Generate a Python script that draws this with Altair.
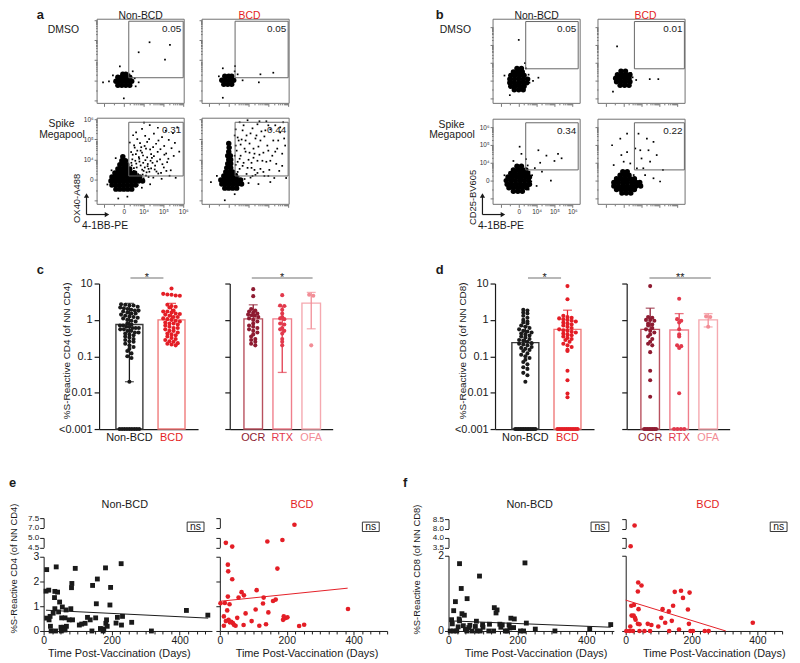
import altair as alt
import pandas as pd

# ---------------- canvas (page coords = canvas + 8) ----------------
W, H = 792, 655
M = 8

FONT = "Liberation Sans"
BLACK = "#1a1a1a"
RED = "#e41e26"
OCR_C = "#8e1b31"
RTX_C = "#e2394c"
OFA_C = "#f28d96"
SIG_GRAY = "#a0a0a0"
FRAME_C = "#707070"

# ================= DATA =================
PANEL_LETTERS = ["a", "b", "c", "d", "e", "f"]
COL_TITLES = ["Non-BCD", "BCD"]
ROW_TITLES = ["DMSO", "Spike", "Megapool"]
FLOW_AXIS_TITLES = ["OX40-A488", "CD25-BV605", "4-1BB-PE"]
Y_TITLES = ["%S-Reactive CD4 (of NN CD4)", "%S-Reactive CD8 (of NN CD8)"]
X_TITLE = "Time Post-Vaccination (Days)"
SIG_TEXT = ["*", "*", "*", "**"]
NS_TEXT = "ns"

# ---- a/b flow cytometry, display units: 0 -> "0", 1 -> 10^4, 2 -> 10^5, 3 -> 10^6
FLOW_TICK_LABELS = ["0", "10⁴", "10⁵", "10⁶"]
FLOW_PCT = ["0.05", "0.05", "0.31", "0.44", "0.05", "0.01", "0.34", "0.22"]
FLOW_GATE_X0 = [0.25, 0.32, 0.25, 0.32, 0.39, 0.60, 0.39, 0.60]
FLOW_GATE_X1 = [3.00, 3.00, 3.00, 3.00, 3.33, 3.40, 3.33, 3.40]
FLOW_GATE_Y0 = [0.13, 0.13, 0.20, 0.20, 0.68, 0.68, 0.60, 0.60]
FLOW_GATE_Y1 = [2.95, 2.95, 2.85, 2.85, 3.33, 3.33, 3.24, 3.24]

# dense cell populations (outline of the black mass, as a fill of small discs)
A_TL_BLOB = [(-0.3, -0.25), (-0.1, -0.25), (0.1, -0.25), (0.3, -0.25),
             (-0.4, -0.05), (-0.2, -0.05), (0.0, -0.05), (0.2, -0.05), (0.4, -0.05),
             (-0.3, 0.15), (-0.1, 0.15), (0.1, 0.15), (0.3, 0.15), (-0.05, 0.3), (0.1, 0.3)]
A_TR_BLOB = [(-0.25, -0.2), (-0.05, -0.2), (0.15, -0.2),
             (-0.35, 0.0), (-0.15, 0.0), (0.05, 0.0), (0.25, 0.0),
             (-0.2, 0.2), (0.0, 0.2), (0.15, 0.2)]
A_BL_BLOB = [(-0.4, -0.45), (-0.2, -0.45), (0.0, -0.45), (0.2, -0.45), (0.4, -0.45),
             (-0.6, -0.25), (-0.4, -0.25), (-0.2, -0.25), (0.0, -0.25), (0.2, -0.25), (0.4, -0.25), (0.6, -0.25),
             (-0.65, -0.05), (-0.45, -0.05), (-0.25, -0.05), (-0.05, -0.05), (0.15, -0.05), (0.35, -0.05),
             (0.55, -0.05), (0.75, -0.05), (0.95, -0.05),
             (-0.6, 0.15), (-0.4, 0.15), (-0.2, 0.15), (0.0, 0.15), (0.2, 0.15), (0.4, 0.15), (0.6, 0.15),
             (0.8, 0.15),
             (-0.45, 0.35), (-0.25, 0.35), (-0.05, 0.35), (0.15, 0.35), (0.35, 0.35), (0.55, 0.35),
             (-0.3, 0.55), (-0.1, 0.55), (0.1, 0.55), (0.3, 0.55),
             (-0.2, 0.75), (0.0, 0.75), (0.15, 0.75), (-0.1, 0.95), (0.08, 0.95), (-0.05, 1.15)]
A_BR_BLOB = [(-0.2, -0.4), (0.0, -0.4), (0.2, -0.4), (0.4, -0.4),
             (-0.35, -0.2), (-0.15, -0.2), (0.05, -0.2), (0.25, -0.2), (0.45, -0.2), (0.65, -0.2),
             (-0.4, 0.0), (-0.2, 0.0), (0.0, 0.0), (0.2, 0.0), (0.4, 0.0), (0.6, 0.0),
             (-0.25, 0.2), (-0.05, 0.2), (0.15, 0.2), (0.35, 0.2),
             (-0.15, 0.4), (0.05, 0.4), (0.2, 0.4), (-0.1, 0.6), (0.1, 0.6), (-0.05, 0.8), (0.1, 0.8),
             (0.0, 1.0), (0.1, 1.0), (-0.05, 1.2), (0.08, 1.2), (0.0, 1.4), (0.02, 1.6), (0.0, 1.8)]
B_TL_BLOB = [(-0.25, -0.5), (0.0, -0.5), (0.25, -0.5),
             (-0.45, -0.3), (-0.2, -0.3), (0.05, -0.3), (0.3, -0.3),
             (-0.5, -0.1), (-0.25, -0.1), (0.0, -0.1), (0.25, -0.1), (0.45, -0.1),
             (-0.5, 0.1), (-0.25, 0.1), (0.0, 0.1), (0.25, 0.1), (0.5, 0.1),
             (-0.45, 0.3), (-0.2, 0.3), (0.05, 0.3), (0.3, 0.3),
             (-0.3, 0.5), (-0.05, 0.5), (0.2, 0.5), (-0.1, 0.7), (0.15, 0.7)]
B_TR_BLOB = [(-0.2, -0.25), (0.05, -0.25), (0.3, -0.25),
             (-0.4, -0.05), (-0.15, -0.05), (0.1, -0.05), (0.35, -0.05),
             (-0.45, 0.15), (-0.2, 0.15), (0.05, 0.15), (0.3, 0.15),
             (-0.35, 0.35), (-0.1, 0.35), (0.15, 0.35), (0.35, 0.35), (-0.15, 0.55), (0.1, 0.55)]
B_BL_BLOB = [(-0.3, -0.6), (-0.05, -0.6), (0.2, -0.6),
             (-0.55, -0.4), (-0.3, -0.4), (-0.05, -0.4), (0.2, -0.4), (0.45, -0.4),
             (-0.65, -0.2), (-0.4, -0.2), (-0.15, -0.2), (0.1, -0.2), (0.35, -0.2), (0.6, -0.2),
             (-0.7, 0.0), (-0.45, 0.0), (-0.2, 0.0), (0.05, 0.0), (0.3, 0.0), (0.55, 0.0),
             (-0.6, 0.2), (-0.35, 0.2), (-0.1, 0.2), (0.15, 0.2), (0.4, 0.2), (0.6, 0.2),
             (-0.45, 0.4), (-0.2, 0.4), (0.05, 0.4), (0.3, 0.4), (0.5, 0.4),
             (-0.3, 0.6), (-0.05, 0.6), (0.2, 0.6), (0.4, 0.6), (-0.1, 0.8), (0.15, 0.8)]
B_BR_BLOB = [(-0.1, -0.7), (0.15, -0.7), (0.4, -0.7),
             (-0.4, -0.5), (-0.15, -0.5), (0.1, -0.5), (0.35, -0.5), (0.6, -0.5),
             (-0.55, -0.3), (-0.3, -0.3), (-0.05, -0.3), (0.2, -0.3), (0.45, -0.3), (0.7, -0.3), (0.95, -0.3),
             (-0.55, -0.1), (-0.3, -0.1), (-0.05, -0.1), (0.2, -0.1), (0.45, -0.1), (0.7, -0.1), (0.9, -0.1),
             (-0.4, 0.1), (-0.15, 0.1), (0.1, 0.1), (0.35, 0.1), (0.6, 0.1),
             (-0.2, 0.3), (0.05, 0.3), (0.3, 0.3), (-0.05, 0.5), (0.2, 0.5)]

# scattered single events
A_TL_DOTS = [(0.28, 0.3), (0.45, 0.45), (2.08, 1.03), (2.33, 1.77), (0.75, 1.4), (-1.05, -0.1), (-0.75, -0.05),
             (0.75, -0.1), (0.0, -0.9), (0.55, 0.1), (-0.2, 0.7), (1.3, 1.9), (0.6, -0.3), (-0.55, 0.25)]
A_TR_DOTS = [(0.32, 0.71), (2.25, 0.38), (1.6, 0.3), (-0.3, -0.87), (1.52, -0.1), (0.7, 0.0), (0.45, 0.3),
             (-0.5, 0.2), (0.3, 0.45), (-0.3, 0.6)]
A_BL_DOTS = [(0.92, 2.52), (1.31, 2.71), (1.72, 2.58), (2.12, 2.43), (2.48, 2.31), (1.08, 2.18), (1.52, 2.29),
             (1.93, 2.12), (2.27, 1.98), (2.58, 1.83), (0.68, 2.02), (1.18, 1.88), (1.63, 1.79), (2.04, 1.68),
             (2.41, 1.57), (0.52, 1.71), (0.88, 1.62), (1.33, 1.51), (1.71, 1.39), (2.14, 1.31), (2.52, 1.19),
             (0.61, 1.28), (0.97, 1.21), (1.42, 1.09), (1.83, 1.02), (2.19, 0.88), (0.43, 1.02), (0.79, 0.91),
             (1.21, 0.79), (1.58, 0.71), (2.02, 0.62), (2.37, 0.48), (0.51, 0.59), (0.93, 0.51), (1.29, 0.41),
             (1.74, 0.32), (0.72, 0.29), (1.12, 0.22), (1.49, 0.12), (1.91, 0.06), (0.33, 0.42), (0.37, 1.38),
             (0.47, 2.21), (1.02, 2.83), (1.38, 1.28), (1.09, 0.98), (0.63, 0.81), (0.76, 1.13), (1.06, 0.62),
             (1.56, 0.52), (2.31, 0.21), (2.62, 0.11), (-0.62, 0.48), (-0.41, 1.08), (-0.83, -0.22), (0.18, -0.82),
             (-0.28, -0.91), (0.91, -0.38), (1.33, -0.21), (0.55, 0.35), (1.45, 0.85), (0.85, 1.45), (1.25, 0.55),
             (0.45, 0.15), (0.62, 0.05), (0.8, 0.18), (0.95, 0.27), (1.15, 0.38), (0.4, 0.72), (2.8, 1.4), (2.7, 2.6),
             (0.35, 0.25), (0.5, 0.45), (0.65, 0.62), (0.85, 0.72), (1.0, 0.45), (1.2, 0.68), (1.38, 0.58),
             (0.58, 0.95), (0.78, 1.05), (0.98, 0.85), (1.18, 1.12), (1.35, 0.95), (1.52, 1.18), (1.68, 0.92),
             (0.45, 1.25), (0.68, 1.45), (0.92, 1.35), (1.12, 1.55), (1.48, 1.62), (1.85, 1.52), (2.05, 1.25),
             (1.95, 0.78), (2.25, 1.05), (0.38, 0.85), (0.55, 1.6), (0.82, 1.82), (1.05, 1.68), (1.28, 2.02),
             (1.75, 1.95), (0.3, 1.85), (0.25, 0.05), (0.4, -0.05), (0.55, -0.15), (0.7, -0.25), (1.0, 0.08),
             (1.25, 0.15), (1.65, 0.42), (1.88, 0.35), (2.15, 0.45), (0.62, 2.35)]
A_BR_DOTS = [(0.55, 2.85), (0.95, 2.95), (1.45, 2.75), (1.9, 2.9), (2.35, 2.7), (2.75, 2.85), (0.7, 2.45),
             (1.2, 2.55), (1.65, 2.4), (2.1, 2.5), (2.6, 2.35), (0.45, 2.1), (0.9, 2.2), (1.35, 2.05), (1.8, 2.15),
             (2.25, 1.95), (2.8, 2.05), (0.6, 1.75), (1.05, 1.8), (1.5, 1.65), (1.95, 1.7), (2.45, 1.55), (0.4, 1.45),
             (0.85, 1.4), (1.3, 1.3), (1.75, 1.35), (2.2, 1.2), (2.7, 1.3), (0.55, 1.05), (1.0, 1.0), (1.45, 0.95),
             (1.9, 0.9), (2.4, 0.8), (0.7, 0.7), (1.15, 0.6), (1.6, 0.55), (2.05, 0.5), (2.55, 0.45), (0.45, 0.4),
             (0.9, 0.3), (1.35, 0.25), (1.8, 0.2), (2.3, 0.1), (2.9, 0.1), (0.5, 0.15), (1.1, 0.12), (-0.6, 0.2),
             (-0.9, -0.1), (0.3, -0.7), (-0.2, -1.0), (1.5, -0.2), (2.1, -0.1), (0.35, 0.75), (0.3, 1.2),
             (0.65, 2.0), (1.25, 1.55),
             (0.4, 0.3), (0.55, 0.55), (0.75, 0.85), (0.95, 0.6), (1.15, 0.85), (1.3, 0.5), (0.6, 1.2), (0.8, 1.55),
             (1.05, 1.35), (1.25, 1.1), (1.55, 1.25), (1.7, 0.95), (0.35, 1.7), (0.5, 1.95), (0.85, 1.95),
             (1.1, 2.3), (1.4, 2.2), (1.6, 1.95), (2.0, 1.45), (2.1, 0.95), (2.35, 1.4), (2.5, 1.95), (2.6, 2.6),
             (2.0, 2.7), (1.55, 2.9), (0.75, 2.7), (0.35, 2.5), (0.3, 0.05), (0.55, -0.1), (0.8, 0.05),
             (1.0, -0.15), (1.2, 0.2), (1.45, 0.35), (1.75, 0.4), (2.0, 0.2), (0.45, 0.9), (0.3, 2.2), (2.85, 1.7),
             (2.7, 0.7), (1.85, 2.45)]
B_TL_DOTS = [(0.0, 2.3), (0.4, 0.7), (0.6, -0.1), (1.1, 0.18), (-0.8, 0.3), (0.35, 1.0), (0.55, 0.35),
             (-0.5, -0.8), (0.8, 0.0)]
B_TR_DOTS = [(-0.37, 1.94), (1.94, 0.1), (1.46, 0.1), (0.5, 0.2), (0.7, 0.05), (-0.6, -0.6), (0.4, 0.45)]
B_BL_DOTS = [(1.1, 1.7), (1.55, 1.4), (2.2, 1.5), (2.4, 1.25), (0.05, 1.9), (0.15, 1.5), (0.4, 1.2), (0.9, 0.7),
             (1.3, 0.5), (1.8, 0.0), (0.75, 0.3), (1.2, 1.0), (-0.8, 0.3), (0.6, 0.5), (0.5, 0.85), (2.0, 1.1),
             (0.3, 0.6), (-0.3, 1.1), (1.0, -0.3), (0.55, -0.5), (0.35, 0.15), (0.7, -0.05)]
B_BR_DOTS = [(-0.65, 1.98), (-0.19, 2.35), (0.19, 1.6), (0.93, 1.7), (1.3, 2.35), (1.67, 2.17), (1.85, 1.43),
             (1.48, 1.06), (1.0, 1.24), (0.74, 0.69), (1.2, 0.31), (1.67, 0.13), (2.04, -0.05), (0.65, 1.8),
             (0.37, 0.96), (0.0, 1.06), (-0.56, 0.87), (1.39, 1.7), (0.56, 0.31), (2.2, 0.6), (0.83, 2.63),
             (0.19, 2.63), (-0.13, 1.43), (1.1, 0.69)]

# ---- c/d: % S-reactive (0 plotted as "<0.001")
GROUPS_L = ["Non-BCD", "BCD"]
GROUPS_R = ["OCR", "RTX", "OFA"]
C_NONBCD = [2.7, 2.6, 2.5, 2.5, 2.3, 2.2, 2.1, 2.0, 1.9, 1.8, 1.8, 1.7, 1.6, 1.5, 1.5, 1.4, 1.3, 1.25, 1.2, 1.15,
            1.1, 1.0, 0.95, 0.9, 0.8, 0.75, 0.7, 0.7, 0.65, 0.65, 0.6, 0.6, 0.6, 0.55, 0.55, 0.5, 0.5, 0.45, 0.45,
            0.42, 0.4, 0.38, 0.35, 0.33, 0.3, 0.28, 0.26, 0.25, 0.22, 0.2, 0.18, 0.16, 0.14, 0.12, 0.1, 0.09, 0.02,
            0, 0, 0, 0, 0, 0, 0, 0, 0]
C_BCD = [7.3, 5.2, 5.0, 4.9, 4.7, 4.6, 2.6, 2.4, 2.3, 2.2, 1.8, 1.7, 1.7, 1.6, 1.5, 1.45, 1.4, 1.3, 1.2, 1.2, 1.1,
         1.05, 1.0, 0.95, 0.9, 0.85, 0.8, 0.8, 0.75, 0.7, 0.65, 0.6, 0.6, 0.55, 0.5, 0.5, 0.45, 0.42, 0.4, 0.38,
         0.35, 0.32, 0.3, 0.28, 0.26, 0.25, 0.23, 0.22, 0.21, 0.2]
C_OCR = [7.0, 4.5, 2.0, 1.8, 1.7, 1.6, 1.5, 1.4, 1.35, 1.3, 1.2, 1.1, 1.0, 0.9, 0.8, 0.7, 0.65, 0.6, 0.55, 0.5,
         0.45, 0.4, 0.35, 0.3, 0.28, 0.25, 0.22, 0.2]
C_RTX = [4.8, 2.5, 2.4, 1.9, 1.5, 1.2, 1.1, 1.05, 0.8, 0.75, 0.6, 0.55, 0.5, 0.42, 0.3, 0.25, 0.2]
C_OFA = [4.9, 4.6, 0.2]
C_MEAN_L = [0.75, 1.0]
C_LO_L = [0.02, 1.0]
C_HI_L = [2.85, 2.85]
C_MEAN_R = [1.07, 1.07, 2.9]
C_LO_R = [1.07, 0.036, 0.57]
C_HI_R = [2.6, 2.36, 5.7]

D_NONBCD = [1.9, 1.8, 1.6, 1.5, 1.3, 1.15, 1.0, 0.9, 0.85, 0.8, 0.7, 0.65, 0.6, 0.55, 0.5, 0.48, 0.45, 0.42, 0.4,
            0.37, 0.35, 0.33, 0.3, 0.28, 0.27, 0.25, 0.23, 0.22, 0.21, 0.2, 0.18, 0.17, 0.16, 0.15, 0.14, 0.12,
            0.11, 0.1, 0.09, 0.08, 0.07, 0.06, 0.05, 0.045, 0.035, 0.03, 0.02,
            0, 0, 0, 0, 0, 0, 0, 0, 0, 0, 0, 0, 0]
D_BCD = [8.5, 3.7, 1.3, 1.2, 1.15, 1.1, 1.05, 1.0, 0.95, 0.9, 0.85, 0.8, 0.75, 0.7, 0.65, 0.6, 0.55, 0.52, 0.5,
         0.47, 0.45, 0.42, 0.4, 0.38, 0.35, 0.32, 0.3, 0.28, 0.25, 0.22, 0.2, 0.18, 0.15, 0.14, 0.04, 0.022,
         0.0095, 0.0075, 0, 0, 0, 0, 0, 0, 0, 0, 0, 0, 0, 0]
D_OCR = [8.5, 1.2, 1.15, 1.0, 1.0, 0.95, 0.8, 0.75, 0.7, 0.6, 0.55, 0.5, 0.45, 0.4, 0.35, 0.3, 0.25, 0.22, 0.2,
         0.13, 0.04, 0.022, 0.0077, 0, 0, 0, 0, 0, 0, 0, 0]
D_RTX = [3.8, 1.05, 0.95, 0.85, 0.55, 0.4, 0.35, 0.2, 0.19, 0.17, 0.0096, 0, 0, 0, 0]
D_OFA = [1.25, 1.2, 0.65]
D_MEAN_L = [0.238, 0.55]
D_LO_L = [0.238, 0.55]
D_HI_L = [0.66, 1.85]
D_MEAN_R = [0.55, 0.53, 1.0]
D_LO_R = [0.55, 0.53, 0.64]
D_HI_R = [2.1, 1.49, 1.49]

# ---- e/f: (days post-vaccination, % S-reactive)
E_NONBCD = [(9, 2.48), (37, 2.59), (93, 2.53), (228, 2.72), (182, 2.55), (158, 2.10), (144, 1.84), (83, 1.92),
            (82, 1.75), (197, 1.76), (7, 1.61), (15, 1.65), (33, 1.60), (41, 1.57), (32, 1.35), (47, 1.17),
            (155, 1.10), (195, 1.05), (55, 0.97), (66, 0.85), (80, 0.90), (33, 0.90), (44, 0.77), (28, 0.72),
            (19, 0.59), (9, 0.52), (16, 0.45), (53, 0.53), (63, 0.53), (75, 0.45), (85, 0.45), (129, 0.55),
            (137, 0.45), (153, 0.53), (185, 0.45), (217, 0.55), (232, 0.59), (105, 0.24), (112, 0.28),
            (122, 0.31), (183, 0.31), (213, 0.32), (229, 0.24), (259, 0.35), (20, 0.19), (51, 0.15), (59, 0.15),
            (67, 0.19), (187, 0.19), (167, 0.10), (177, 0.08), (22, 0.0), (35, 0.0), (52, 0.0), (142, 0.0),
            (175, 0.0), (317, 0.0), (420, 0.83), (483, 0.64), (55, 0.05), (60, 0.10), (63, 0.04)]
E_NONBCD_FIT = [(7, 0.84), (484, 0.52)]
E_BCD = [(223, 7.15), (18, 4.74), (37, 4.54), (142, 4.81), (187, 4.89), (24, 2.68), (25, 2.41), (172, 2.52),
         (37, 2.09), (110, 1.65), (65, 1.57), (72, 1.44), (56, 1.35), (24, 1.39), (131, 1.35), (167, 1.27),
         (159, 1.21), (2, 1.12), (15, 1.13), (29, 1.08), (129, 1.11), (22, 0.83), (107, 0.87), (77, 0.71),
         (145, 0.75), (12, 0.59), (52, 0.53), (26, 0.45), (18, 0.40), (34, 0.37), (95, 0.40), (189, 0.45),
         (196, 0.52), (202, 0.55), (191, 0.59), (42, 0.25), (47, 0.21), (12, 0.21), (71, 0.24), (118, 0.21),
         (138, 0.27), (237, 0.20), (252, 0.25), (383, 0.89), (39, 0.32), (30, 0.35)]
E_BCD_FIT = [(0, 1.2), (382, 1.73)]
F_NONBCD = [(32, 1.79), (222, 1.81), (90, 1.46), (37, 1.13), (20, 0.78), (54, 0.86), (15, 0.54), (39, 0.46),
            (46, 0.42), (31, 0.32), (32, 0.27), (9, 0.30), (11, 0.19), (133, 0.62), (141, 0.56), (138, 0.48),
            (181, 0.34), (191, 0.32), (81, 0.26), (119, 0.18), (99, 0.17), (149, 0.18), (156, 0.16), (152, 0.10),
            (226, 0.21), (28, 0.11), (43, 0.14), (62, 0.15), (59, 0.09), (49, 0.04), (78, 0.12), (100, 0.10),
            (176, 0.16), (178, 0.08), (189, 0.09), (5, 0.0), (15, 0.0), (24, 0.0), (53, 0.0), (68, 0.0), (83, 0.0),
            (92, 0.0), (117, 0.0), (131, 0.0), (165, 0.0), (170, 0.0), (209, 0.0), (218, 0.0), (252, 0.05),
            (309, 0.0), (410, 0.06), (471, 0.17)]
F_NONBCD_FIT = [(3, 0.27), (471, 0.10)]
F_BCD = [(27, 8.16), (15, 3.56), (38, 1.29), (48, 1.21), (37, 1.05), (149, 1.04), (168, 1.07), (194, 1.02),
         (174, 0.88), (17, 0.67), (25, 0.69), (39, 0.58), (112, 0.58), (131, 0.52), (144, 0.67), (189, 0.57),
         (18, 0.41), (24, 0.41), (28, 0.35), (30, 0.30), (37, 0.19), (108, 0.35), (120, 0.22), (140, 0.27),
         (67, 0.19), (78, 0.16), (99, 0.12), (192, 0.19), (14, 0.12), (386, 0.22), (42, 0.18), (162, 0.04),
         (2, 0.0), (12, 0.0), (22, 0.0), (42, 0.0), (57, 0.0), (74, 0.0), (132, 0.0), (197, 0.0), (204, 0.0),
         (240, 0.0), (252, 0.0)]
F_BCD_FIT = [(0, 0.82), (304, 0.0)]

# ================= helpers =================
ONE = pd.DataFrame({"k": [0]})


def P(v):
    return v - M


def tx(s, x, y, size=11, color=BLACK, align="center", baseline="middle", angle=0, weight="normal"):
    return alt.Chart(pd.DataFrame({"t": [s]})).mark_text(
        font=FONT, fontSize=size, color=color, align=align, baseline=baseline, angle=angle, fontWeight=weight
    ).encode(x=alt.value(P(x)), y=alt.value(P(y)), text="t:N")


def hrule(x1, x2, y, color=BLACK, width=1.0):
    return alt.Chart(ONE).mark_rule(color=color, strokeWidth=width).encode(
        x=alt.value(P(x1)), x2=alt.value(P(x2)), y=alt.value(P(y)))


def vrule(x, y1, y2, color=BLACK, width=1.0):
    return alt.Chart(ONE).mark_rule(color=color, strokeWidth=width).encode(
        x=alt.value(P(x)), y=alt.value(P(y1)), y2=alt.value(P(y2)))


def frame(x1, y1, x2, y2, color, width=1.0):
    return alt.Chart(ONE).mark_rect(fill="white", fillOpacity=0, stroke=color, strokeWidth=width).encode(
        x=alt.value(P(x1)), x2=alt.value(P(x2)), y=alt.value(P(y1)), y2=alt.value(P(y2)))


def head(x, y, shape):
    return alt.Chart(ONE).mark_point(shape=shape, filled=True, size=28, color=BLACK, opacity=1).encode(
        x=alt.value(P(x)), y=alt.value(P(y)))


FLOW_TICKS = [-1.0, -0.5, 0.0, 0.3, 0.48, 0.6, 0.7, 0.78, 0.85, 0.9, 0.95, 1.0, 1.3, 1.48, 1.6, 1.7, 1.78,
              1.85, 1.9, 1.95, 2.0, 2.3, 2.48, 2.6, 2.7, 2.78, 2.85, 2.9, 2.95, 3.0]
FLOW_LABEL_EXPR = " : ".join(
    "datum.value == %d ? '%s'" % (i, lab) for i, lab in enumerate(FLOW_TICK_LABELS)) + " : ''"


def flow_plot(blob, dots, i, box, xdom, ydom, show_labels):
    x0, y0, x1, y1 = box
    xs = alt.Scale(domain=xdom, range=[P(x0), P(x1)], nice=False, zero=False)
    ys = alt.Scale(domain=ydom, range=[P(y1), P(y0)], nice=False, zero=False)
    common = dict(values=FLOW_TICKS, domain=False, grid=False, tickColor="#555555", tickWidth=0.8,
                  tickSize={"condition": {"test": "datum.value % 1 == 0", "value": 3}, "value": 1.5},
                  labels=show_labels, labelExpr=FLOW_LABEL_EXPR, labelFontSize=6.5, labelColor="#333333",
                  labelOverlap=False, labelFlush=False, labelPadding=1, title=None)
    ax = alt.Axis(orient="bottom", offset=P(y1) - H, **common)
    ay = alt.Axis(orient="left", offset=-P(x0), labelAngle=0, **common)
    X = alt.X("x:Q", scale=xs, axis=ax)
    Y = alt.Y("y:Q", scale=ys, axis=ay)
    blob_df = pd.DataFrame(blob, columns=["x", "y"])
    dots_df = pd.DataFrame(dots, columns=["x", "y"])
    gate_df = pd.DataFrame({"x": [FLOW_GATE_X0[i]], "x2": [FLOW_GATE_X1[i]], "y": [FLOW_GATE_Y0[i]],
                            "y2": [FLOW_GATE_Y1[i]], "t": [FLOW_PCT[i]]})
    l_dots = alt.Chart(dots_df).mark_square(size=3, color="black", opacity=1).encode(x=X, y=Y)
    l_blob = alt.Chart(blob_df).mark_circle(size=30, color="black", opacity=1).encode(x=X, y=Y)
    l_gate = alt.Chart(gate_df).mark_rect(fill="white", fillOpacity=0, stroke="#666666", strokeWidth=1).encode(
        x=X, x2="x2:Q", y=Y, y2="y2:Q")
    l_pct = alt.Chart(gate_df).mark_text(font=FONT, fontSize=10, align="right", baseline="top", dx=-2, dy=3,
                                         color=BLACK).encode(
        x=alt.X("x2:Q", scale=xs, axis=ax), y=alt.Y("y2:Q", scale=ys, axis=ay), text="t:N")
    return alt.layer(l_dots, l_blob, l_gate, l_pct)


HW = 0.32


def bar_plot(names, pos, vals, means, los, his, dot_colors, bar_colors, box, xdom, ylabels):
    x0, y0, x1, y1 = box
    ppu = (x1 - x0) / (xdom[1] - xdom[0])
    spread = 2 * HW * ppu - 5
    xs = alt.Scale(domain=xdom, range=[P(x0), P(x1)], nice=False, zero=False)
    ys = alt.Scale(type="log", domain=[0.001, 10], range=[P(y1), P(y0)], nice=False)
    cs = alt.Scale(domain=names, range=dot_colors)
    ss = alt.Scale(domain=names, range=bar_colors)
    ax = alt.Axis(orient="bottom", offset=P(y1) - H, labels=False, ticks=False, grid=False,
                  domainColor=BLACK, domainWidth=1.2, title=None)
    ay = alt.Axis(orient="left", offset=-P(x0), values=[0.001, 0.01, 0.1, 1, 10],
                  labelExpr="datum.value < 0.002 ? '<0.001' : format(datum.value, '~g')",
                  labels=ylabels, tickSize=5, tickWidth=1.2, tickColor=BLACK, domainColor=BLACK,
                  domainWidth=1.2, labelFontSize=11, labelColor=BLACK, labelPadding=2,
                  labelOverlap=False, labelFlush=False, grid=False, title=None)
    col = alt.Color("grp:N", scale=cs, legend=None)
    rows = []
    for n, p, vs in zip(names, pos, vals):
        rows += [{"grp": n, "pos": p, "val": v} for v in vs]
    pdf = pd.DataFrame(rows)
    bdf = pd.DataFrame({"grp": names, "pos": pos, "mean": means, "lo": los, "hi": his})

    bars = alt.Chart(bdf).transform_calculate(
        xa="datum.pos - %f" % HW, xb="datum.pos + %f" % HW, base="0.001"
    ).mark_bar(fill="white", fillOpacity=0, strokeWidth=1.4).encode(
        x=alt.X("xa:Q", scale=xs, axis=ax), x2="xb:Q",
        y=alt.Y("mean:Q", scale=ys, axis=ay), y2="base:Q",
        stroke=alt.Stroke("grp:N", scale=ss, legend=None))
    pts = alt.Chart(pdf).transform_calculate(
        v="max(datum.val, 0.001)"
    ).transform_calculate(
        rowbin="round(log(datum.v) / LN10 / 0.1)"
    ).transform_window(
        rk="row_number()", groupby=["grp", "rowbin"]
    ).transform_joinaggregate(
        cnt="count()", groupby=["grp", "rowbin"]
    ).transform_calculate(
        xp="datum.pos + (datum.rk - (datum.cnt + 1) / 2) * min(4.2, %f / datum.cnt) / %f" % (spread, ppu)
    ).mark_circle(size=17, opacity=1).encode(
        x=alt.X("xp:Q", scale=xs, axis=ax), y=alt.Y("v:Q", scale=ys, axis=ay), color=col)
    err = alt.Chart(bdf).mark_rule(strokeWidth=1.3).encode(
        x=alt.X("pos:Q", scale=xs, axis=ax), y=alt.Y("lo:Q", scale=ys, axis=ay), y2="hi:Q", color=col)
    cap_hi = alt.Chart(bdf).mark_tick(orient="horizontal", size=9, thickness=1.3).encode(
        x=alt.X("pos:Q", scale=xs, axis=ax), y=alt.Y("hi:Q", scale=ys, axis=ay), color=col)
    cap_lo = alt.Chart(bdf).transform_filter("datum.lo < datum.mean").mark_tick(
        orient="horizontal", size=9, thickness=1.3).encode(
        x=alt.X("pos:Q", scale=xs, axis=ax), y=alt.Y("lo:Q", scale=ys, axis=ay), color=col)
    labs = alt.Chart(bdf).mark_text(font=FONT, fontSize=11, baseline="top").encode(
        x=alt.X("pos:Q", scale=xs, axis=ax), y=alt.value(P(y1) + 3), text="grp:N", color=col)
    return alt.layer(bars, pts, err, cap_hi, cap_lo, labs)


def time_panel(pairs, fit, segs, bx, xdom, shape, color, size, ylabels):
    x0, x1 = bx
    df = pd.DataFrame(pairs, columns=["d", "v"])
    out = []
    for lo, hi, ydom, yvals, yfmt, y0, y1, is_main in segs:
        xs = alt.Scale(domain=xdom, range=[P(x0), P(x1)], nice=False, zero=False)
        ys = alt.Scale(domain=ydom, range=[P(y1), P(y0)], nice=False, zero=False)
        if is_main:
            ax = alt.Axis(orient="bottom", offset=P(y1) - H, values=list(range(0, xdom[1] + 1, 25)),
                          tickSize={"condition": {"test": "datum.value % 200 == 0", "value": 4}, "value": 3},
                          tickColor=BLACK, tickWidth=1, domainColor=BLACK, domainWidth=1,
                          labelExpr="datum.value % 200 == 0 ? datum.label : ''", labelFontSize=10.5,
                          labelColor=BLACK, labelPadding=1, labelOverlap=False, labelFlush=False,
                          grid=False, title=None)
        else:
            ax = None
        ay = alt.Axis(orient="left", offset=-P(x0), values=yvals, format=yfmt, labels=ylabels, tickSize=4,
                      tickColor=BLACK, tickWidth=1, domainColor=BLACK, domainWidth=1,
                      labelFontSize=10.5 if is_main else 8.2,
                      labelColor=BLACK, labelPadding=1, labelOverlap=False, labelFlush=False, grid=False,
                      title=None)
        X = alt.X("d:Q", scale=xs, axis=ax)
        Y = alt.Y("v:Q", scale=ys, axis=ay)
        pts = alt.Chart(df).transform_filter("datum.v >= %f && datum.v < %f" % (lo, hi)).mark_point(
            shape=shape, filled=True, size=size, color=color, opacity=1, strokeWidth=0).encode(x=X, y=Y)
        lay = [pts]
        if is_main:
            fdf = pd.DataFrame(fit, columns=["d", "v"])
            lay.append(alt.Chart(fdf).mark_line(color=color, strokeWidth=1).encode(x=X, y=Y))
        out.append(alt.layer(*lay))
    return out


# ================= build =================
layers = []

# ---- row 1: flow plots
A_X = [-1.35, 3.05]
A_YT = [-1.15, 3.05]
A_YB = [-1.2, 3.05]
B_X = [-1.44, 3.44]
B_YT = [-1.26, 3.46]
B_YB = [-1.33, 3.44]
flow_specs = [
    (A_TL_BLOB, A_TL_DOTS, (98, 16, 186, 101), A_X, A_YT, False),
    (A_TR_BLOB, A_TR_DOTS, (204, 16, 292, 101), A_X, A_YT, False),
    (A_BL_BLOB, A_BL_DOTS, (98, 116, 186, 203), A_X, A_YB, True),
    (A_BR_BLOB, A_BR_DOTS, (204, 116, 292, 203), A_X, A_YB, False),
    (B_TL_BLOB, B_TL_DOTS, (498, 16, 586, 101), B_X, B_YT, False),
    (B_TR_BLOB, B_TR_DOTS, (604, 16, 692, 101), B_X, B_YT, False),
    (B_BL_BLOB, B_BL_DOTS, (498, 117, 586, 203), B_X, B_YB, True),
    (B_BR_BLOB, B_BR_DOTS, (604, 117, 692, 203), B_X, B_YB, False),
]
for i, (bl, dt, box, xd, yd, lab) in enumerate(flow_specs):
    layers.append(frame(*box, FRAME_C))
    layers.append(flow_plot(bl, dt, i, box, xd, yd, lab))

layers += [
    tx(PANEL_LETTERS[0], 37, 16, 13, align="left", baseline="alphabetic", weight="bold"),
    tx(PANEL_LETTERS[1], 440, 16, 13, align="left", baseline="alphabetic", weight="bold"),
    tx(COL_TITLES[0], 142, 15.5, 10.5, baseline="alphabetic"),
    tx(COL_TITLES[1], 252, 15.5, 10.5, color=RED, baseline="alphabetic"),
    tx(COL_TITLES[0], 542, 15.5, 10.5, baseline="alphabetic"),
    tx(COL_TITLES[1], 652, 15.5, 10.5, color=RED, baseline="alphabetic"),
    tx(ROW_TITLES[0], 64, 26.5, 10.5),
    tx(ROW_TITLES[1], 62, 122, 10.5),
    tx(ROW_TITLES[2], 62.5, 132.5, 10.5),
    tx(ROW_TITLES[0], 460, 26.5, 10.5),
    tx(ROW_TITLES[1], 456, 122.5, 10.5),
    tx(ROW_TITLES[2], 456.5, 132.5, 10.5),
    tx(FLOW_AXIS_TITLES[0], 78, 197, 9.5, angle=270),
    tx(FLOW_AXIS_TITLES[1], 478, 196, 9.5, angle=270),
    tx(FLOW_AXIS_TITLES[2], 106, 224.5, 10.5),
    tx(FLOW_AXIS_TITLES[2], 506, 224.5, 10.5),
]
for ox in (0, 400):
    layers += [
        vrule(87.3 + ox, 213.3, 195, BLACK, 1.2),
        hrule(87.3 + ox, 106.5 + ox, 213.3, BLACK, 1.2),
        head(87.3 + ox, 194, "triangle-up"),
        head(108 + ox, 213.3, "triangle-right"),
    ]

# ---- row 2: bar plots
XL = [0.28, 2.63]
XR = [0.19, 3.74]
DOT_L = [BLACK, RED]
BAR_L = ["#3a3a3a", "#f07a7a"]
DOT_R = [OCR_C, RTX_C, OFA_C]
BAR_R = ["#b8505e", "#f07f8c", "#f5a9b0"]
layers += [
    bar_plot(GROUPS_L, [1, 2], [C_NONBCD, C_BCD], C_MEAN_L, C_LO_L, C_HI_L, DOT_L, BAR_L,
             (100, 283, 200, 430), XL, True),
    bar_plot(GROUPS_R, [1, 2, 3], [C_OCR, C_RTX, C_OFA], C_MEAN_R, C_LO_R, C_HI_R, DOT_R, BAR_R,
             (232, 283, 336, 430), XR, False),
    bar_plot(GROUPS_L, [1, 2], [D_NONBCD, D_BCD], D_MEAN_L, D_LO_L, D_HI_L, DOT_L, BAR_L,
             (500, 283, 600, 430), XL, True),
    bar_plot(GROUPS_R, [1, 2, 3], [D_OCR, D_RTX, D_OFA], D_MEAN_R, D_LO_R, D_HI_R, DOT_R, BAR_R,
             (633, 283, 737, 430), XR, False),
]
layers += [
    tx(PANEL_LETTERS[2], 37, 273, 13, align="left", baseline="alphabetic", weight="bold"),
    tx(PANEL_LETTERS[3], 440, 273, 13, align="left", baseline="alphabetic", weight="bold"),
    tx(Y_TITLES[0], 67.5, 351, 10, angle=270),
    tx(Y_TITLES[1], 467.5, 351, 10, angle=270),
]
for (a, b, t) in [(131.7, 165, SIG_TEXT[0]), (254.3, 315.7, SIG_TEXT[1]),
                  (533.3, 566.7, SIG_TEXT[2]), (656, 718, SIG_TEXT[3])]:
    layers.append(hrule(a, b, 277.3, SIG_GRAY, 1.5))
    layers.append(tx(t, (a + b) / 2, 280, 11, baseline="alphabetic"))

# ---- row 3: time plots (broken y axes)
E_SEGS = [(6.0, 99.0, [7.0, 7.5], [7.0, 7.5], ".1f", 520, 529.5, False),
          (4.0, 6.0, [4.5, 5.0], [4.5, 5.0], ".1f", 540, 549.5, False),
          (-1.0, 4.0, [0, 3], [0, 1, 2, 3], "d", 559, 634, True)]
F_SEGS = [(6.0, 99.0, [8.0, 8.5], [8.0, 8.5], ".1f", 521, 530.5, False),
          (3.0, 6.0, [3.5, 4.0], [3.5, 4.0], ".1f", 540, 549.5, False),
          (-1.0, 3.0, [0, 2], [0, 1, 2], "d", 558, 634, True)]
layers += time_panel(E_NONBCD, E_NONBCD_FIT, E_SEGS, (44, 214), [0, 495], "square", BLACK, 24, True)
layers += time_panel(E_BCD, E_BCD_FIT, E_SEGS, (222, 391), [0, 500], "circle", RED, 22, False)
layers += time_panel(F_NONBCD, F_NONBCD_FIT, F_SEGS, (453, 620), [0, 480], "square", BLACK, 24, True)
layers += time_panel(F_BCD, F_BCD_FIT, F_SEGS, (632, 790), [0, 475], "circle", RED, 22, False)

layers += [
    tx(PANEL_LETTERS[4], 9, 489, 13, align="left", baseline="alphabetic", weight="bold"),
    tx(PANEL_LETTERS[5], 407, 489, 13, align="left", baseline="alphabetic", weight="bold"),
    tx(COL_TITLES[0], 126, 507, 11),
    tx(COL_TITLES[1], 305, 507, 11, color=RED),
    tx(COL_TITLES[0], 535, 507, 11),
    tx(COL_TITLES[1], 715, 507, 11, color=RED),
    tx(Y_TITLES[0], 14, 571, 9.5, angle=270),
    tx(Y_TITLES[1], 421, 572, 9.5, angle=270),
    tx(X_TITLE, 120.5, 657, 11),
    tx(X_TITLE, 310, 657, 11),
    tx(X_TITLE, 541.5, 657, 11),
    tx(X_TITLE, 721.5, 657, 11),
]
for (a, b) in [(189, 206), (366, 383), (597, 615), (778, 795)]:
    layers.append(frame(a, 524, b, 533.5, "#333333", 1.0))
    layers.append(tx(NS_TEXT, (a + b) / 2, 528.5, 10.5))

chart = alt.layer(*layers).resolve_scale(
    x="independent", y="independent", color="independent", stroke="independent"
).properties(
    width=W, height=H, padding=0, autosize=alt.AutoSizeParams(type="none")
).configure(font=FONT).configure_view(strokeWidth=0)

chart.save("out.html", embed_options={"renderer": "svg", "actions": False})
